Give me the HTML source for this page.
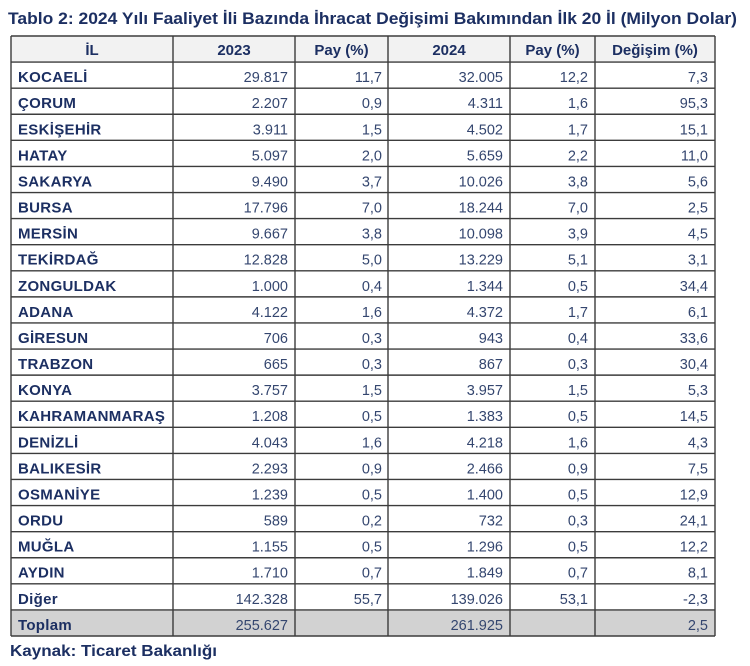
<!DOCTYPE html>
<html>
<head>
<meta charset="utf-8">
<style>
html,body{margin:0;padding:0;background:#fff;}
svg{display:block;}
text{font-family:"Liberation Sans",Arial,sans-serif;}
.t{font-weight:bold;fill:#1c2f62;}
.n{font-weight:bold;fill:#1c2f62;font-size:15px;letter-spacing:0.3px;}
.h{font-weight:bold;fill:#1c2f62;font-size:15px;}
.v{fill:#34466f;font-size:14.5px;}
</style>
</head>
<body>
<svg width="750" height="666" viewBox="0 0 750 666" xmlns="http://www.w3.org/2000/svg">
<text class="t" x="8" y="24" font-size="17" textLength="729" lengthAdjust="spacingAndGlyphs">Tablo 2: 2024 Yılı Faaliyet İli Bazında İhracat Değişimi Bakımından İlk 20 İl (Milyon Dolar)</text>
<!-- fills -->
<rect x="11" y="36" width="704" height="26.09" fill="#f2f2f2"/>
<rect x="11" y="609.9" width="704" height="26.1" fill="#d2d2d2"/>
<g id="rows"></g>
<!-- horizontal lines -->
<g stroke="#3c3c3c" stroke-width="1.4">
<line x1="11" x2="715" y1="36" y2="36"/>
<line x1="11" x2="715" y1="62.09" y2="62.09"/>
<line x1="11" x2="715" y1="88.17" y2="88.17"/>
<line x1="11" x2="715" y1="114.26" y2="114.26"/>
<line x1="11" x2="715" y1="140.35" y2="140.35"/>
<line x1="11" x2="715" y1="166.43" y2="166.43"/>
<line x1="11" x2="715" y1="192.52" y2="192.52"/>
<line x1="11" x2="715" y1="218.61" y2="218.61"/>
<line x1="11" x2="715" y1="244.7" y2="244.7"/>
<line x1="11" x2="715" y1="270.78" y2="270.78"/>
<line x1="11" x2="715" y1="296.87" y2="296.87"/>
<line x1="11" x2="715" y1="322.96" y2="322.96"/>
<line x1="11" x2="715" y1="349.04" y2="349.04"/>
<line x1="11" x2="715" y1="375.13" y2="375.13"/>
<line x1="11" x2="715" y1="401.22" y2="401.22"/>
<line x1="11" x2="715" y1="427.3" y2="427.3"/>
<line x1="11" x2="715" y1="453.39" y2="453.39"/>
<line x1="11" x2="715" y1="479.48" y2="479.48"/>
<line x1="11" x2="715" y1="505.57" y2="505.57"/>
<line x1="11" x2="715" y1="531.65" y2="531.65"/>
<line x1="11" x2="715" y1="557.74" y2="557.74"/>
<line x1="11" x2="715" y1="583.83" y2="583.83"/>
<line x1="11" x2="715" y1="609.91" y2="609.91"/>
<line x1="11" x2="715" y1="636" y2="636"/>
<line x1="11" x2="11" y1="36" y2="636"/>
<line x1="173" x2="173" y1="36" y2="636"/>
<line x1="295" x2="295" y1="36" y2="636"/>
<line x1="388" x2="388" y1="36" y2="636"/>
<line x1="510" x2="510" y1="36" y2="636"/>
<line x1="595" x2="595" y1="36" y2="636"/>
<line x1="715" x2="715" y1="36" y2="636"/>
</g>
<!-- header -->
<g class="h" text-anchor="middle">
<text x="92" y="55">İL</text>
<text x="234" y="55">2023</text>
<text x="341.5" y="55">Pay (%)</text>
<text x="449" y="55">2024</text>
<text x="552.5" y="55">Pay (%)</text>
<text x="655" y="55">Değişim (%)</text>
</g>
<!-- names -->
<g class="n">
<text x="18" y="82.1">KOCAELİ</text>
<text x="18" y="108.2">ÇORUM</text>
<text x="18" y="134.3">ESKİŞEHİR</text>
<text x="18" y="160.4">HATAY</text>
<text x="18" y="186.4">SAKARYA</text>
<text x="18" y="212.5">BURSA</text>
<text x="18" y="238.6">MERSİN</text>
<text x="18" y="264.7">TEKİRDAĞ</text>
<text x="18" y="290.8">ZONGULDAK</text>
<text x="18" y="316.9">ADANA</text>
<text x="18" y="343">GİRESUN</text>
<text x="18" y="369">TRABZON</text>
<text x="18" y="395.1">KONYA</text>
<text x="18" y="421.2">KAHRAMANMARAŞ</text>
<text x="18" y="447.3">DENİZLİ</text>
<text x="18" y="473.4">BALIKESİR</text>
<text x="18" y="499.5">OSMANİYE</text>
<text x="18" y="525.6">ORDU</text>
<text x="18" y="551.7">MUĞLA</text>
<text x="18" y="577.7">AYDIN</text>
<text x="18" y="603.8">Diğer</text>
<text x="18" y="629.9">Toplam</text>
</g>
<!-- 2023 -->
<g class="v" text-anchor="end">
<text x="288" y="82.1">29.817</text>
<text x="288" y="108.2">2.207</text>
<text x="288" y="134.3">3.911</text>
<text x="288" y="160.4">5.097</text>
<text x="288" y="186.4">9.490</text>
<text x="288" y="212.5">17.796</text>
<text x="288" y="238.6">9.667</text>
<text x="288" y="264.7">12.828</text>
<text x="288" y="290.8">1.000</text>
<text x="288" y="316.9">4.122</text>
<text x="288" y="343">706</text>
<text x="288" y="369">665</text>
<text x="288" y="395.1">3.757</text>
<text x="288" y="421.2">1.208</text>
<text x="288" y="447.3">4.043</text>
<text x="288" y="473.4">2.293</text>
<text x="288" y="499.5">1.239</text>
<text x="288" y="525.6">589</text>
<text x="288" y="551.7">1.155</text>
<text x="288" y="577.7">1.710</text>
<text x="288" y="603.8">142.328</text>
<text x="288" y="629.9">255.627</text>
</g>
<!-- Pay 2023 -->
<g class="v" text-anchor="end">
<text x="382" y="82.1">11,7</text>
<text x="382" y="108.2">0,9</text>
<text x="382" y="134.3">1,5</text>
<text x="382" y="160.4">2,0</text>
<text x="382" y="186.4">3,7</text>
<text x="382" y="212.5">7,0</text>
<text x="382" y="238.6">3,8</text>
<text x="382" y="264.7">5,0</text>
<text x="382" y="290.8">0,4</text>
<text x="382" y="316.9">1,6</text>
<text x="382" y="343">0,3</text>
<text x="382" y="369">0,3</text>
<text x="382" y="395.1">1,5</text>
<text x="382" y="421.2">0,5</text>
<text x="382" y="447.3">1,6</text>
<text x="382" y="473.4">0,9</text>
<text x="382" y="499.5">0,5</text>
<text x="382" y="525.6">0,2</text>
<text x="382" y="551.7">0,5</text>
<text x="382" y="577.7">0,7</text>
<text x="382" y="603.8">55,7</text>
</g>
<!-- 2024 -->
<g class="v" text-anchor="end">
<text x="503" y="82.1">32.005</text>
<text x="503" y="108.2">4.311</text>
<text x="503" y="134.3">4.502</text>
<text x="503" y="160.4">5.659</text>
<text x="503" y="186.4">10.026</text>
<text x="503" y="212.5">18.244</text>
<text x="503" y="238.6">10.098</text>
<text x="503" y="264.7">13.229</text>
<text x="503" y="290.8">1.344</text>
<text x="503" y="316.9">4.372</text>
<text x="503" y="343">943</text>
<text x="503" y="369">867</text>
<text x="503" y="395.1">3.957</text>
<text x="503" y="421.2">1.383</text>
<text x="503" y="447.3">4.218</text>
<text x="503" y="473.4">2.466</text>
<text x="503" y="499.5">1.400</text>
<text x="503" y="525.6">732</text>
<text x="503" y="551.7">1.296</text>
<text x="503" y="577.7">1.849</text>
<text x="503" y="603.8">139.026</text>
<text x="503" y="629.9">261.925</text>
</g>
<!-- Pay 2024 -->
<g class="v" text-anchor="end">
<text x="588" y="82.1">12,2</text>
<text x="588" y="108.2">1,6</text>
<text x="588" y="134.3">1,7</text>
<text x="588" y="160.4">2,2</text>
<text x="588" y="186.4">3,8</text>
<text x="588" y="212.5">7,0</text>
<text x="588" y="238.6">3,9</text>
<text x="588" y="264.7">5,1</text>
<text x="588" y="290.8">0,5</text>
<text x="588" y="316.9">1,7</text>
<text x="588" y="343">0,4</text>
<text x="588" y="369">0,3</text>
<text x="588" y="395.1">1,5</text>
<text x="588" y="421.2">0,5</text>
<text x="588" y="447.3">1,6</text>
<text x="588" y="473.4">0,9</text>
<text x="588" y="499.5">0,5</text>
<text x="588" y="525.6">0,3</text>
<text x="588" y="551.7">0,5</text>
<text x="588" y="577.7">0,7</text>
<text x="588" y="603.8">53,1</text>
</g>
<!-- Değişim -->
<g class="v" text-anchor="end">
<text x="708" y="82.1">7,3</text>
<text x="708" y="108.2">95,3</text>
<text x="708" y="134.3">15,1</text>
<text x="708" y="160.4">11,0</text>
<text x="708" y="186.4">5,6</text>
<text x="708" y="212.5">2,5</text>
<text x="708" y="238.6">4,5</text>
<text x="708" y="264.7">3,1</text>
<text x="708" y="290.8">34,4</text>
<text x="708" y="316.9">6,1</text>
<text x="708" y="343">33,6</text>
<text x="708" y="369">30,4</text>
<text x="708" y="395.1">5,3</text>
<text x="708" y="421.2">14,5</text>
<text x="708" y="447.3">4,3</text>
<text x="708" y="473.4">7,5</text>
<text x="708" y="499.5">12,9</text>
<text x="708" y="525.6">24,1</text>
<text x="708" y="551.7">12,2</text>
<text x="708" y="577.7">8,1</text>
<text x="708" y="603.8">-2,3</text>
<text x="708" y="629.9">2,5</text>
</g>
<text class="t" x="10" y="656" font-size="16" textLength="207" lengthAdjust="spacingAndGlyphs">Kaynak: Ticaret Bakanlığı</text>
</svg>
</body>
</html>
